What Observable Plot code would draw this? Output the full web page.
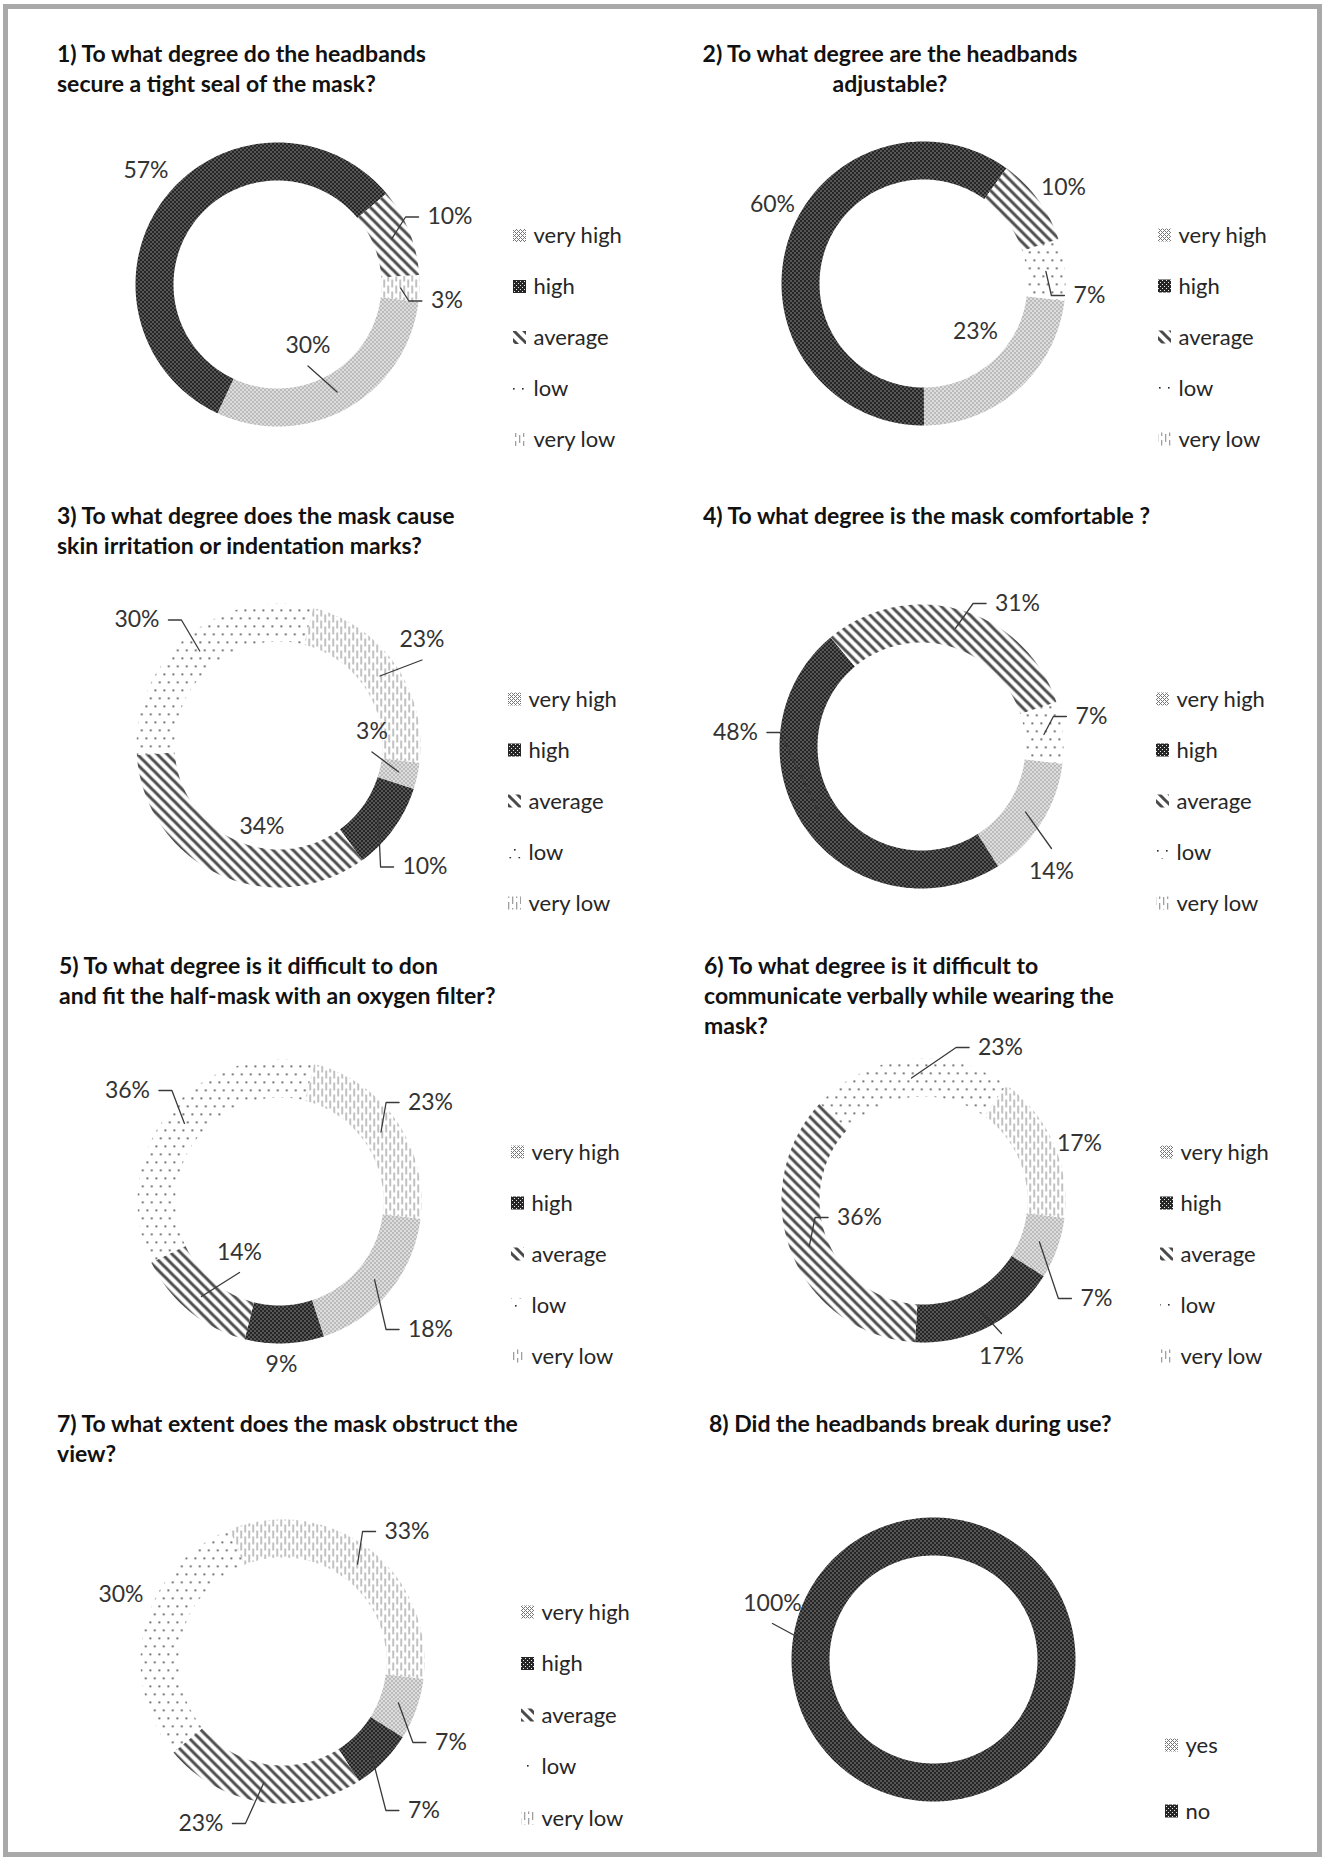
<!DOCTYPE html>
<html><head><meta charset="utf-8">
<script src="https://cdn.jsdelivr.net/npm/d3@7"></script>
<script src="https://cdn.jsdelivr.net/npm/@observablehq/plot@0.6"></script>
<style>
html,body{margin:0;padding:0;background:#fff;}
body{width:1325px;height:1861px;position:relative;overflow:hidden;font-family:Lato,"Open Sans",sans-serif;}
#frame{position:absolute;left:3px;top:4px;width:1309px;height:1843px;border:5px solid #a9a9a9;}
.title{position:absolute;font-weight:700;font-size:23px;line-height:30px;color:#111;white-space:nowrap;}
.panel{position:absolute;width:640px;height:380px;}
.panel svg{overflow:visible;max-width:none !important;}
</style></head><body>
<svg width="0" height="0" style="position:absolute;left:0;top:0">
<defs>
  <pattern id="p-vh" width="4" height="4" patternUnits="userSpaceOnUse">
    <rect width="4" height="4" fill="#fff"/>
    <rect x="0" y="0" width="1" height="1" fill="#767676"/>
    <rect x="1" y="1" width="1" height="1" fill="#767676"/>
    <rect x="2" y="2" width="1" height="1" fill="#767676"/>
    <rect x="3" y="3" width="1" height="1" fill="#767676"/>
    <rect x="1" y="3" width="1" height="1" fill="#767676"/>
    <rect x="3" y="1" width="1" height="1" fill="#767676"/>
  </pattern>
  <pattern id="p-h" width="4" height="4" patternUnits="userSpaceOnUse">
    <rect width="4" height="4" fill="#262626"/>
    <rect x="0" y="0" width="1" height="1" fill="#e6e6e6"/>
    <rect x="2" y="2" width="1" height="1" fill="#e6e6e6"/>
  </pattern>
  <pattern id="p-avg" width="10" height="10" patternUnits="userSpaceOnUse">
    <rect width="10" height="10" fill="#fff"/>
    <path d="M-5,-5 L15,15 M-5,5 L5,15 M5,-5 L15,5" stroke="#4a4a4a" stroke-width="3"/>
  </pattern>
  <pattern id="p-low" width="9" height="16" patternUnits="userSpaceOnUse">
    <rect width="9" height="16" fill="#fff"/>
    <rect x="1" y="1" width="1.6" height="1.6" fill="#2a2a2a"/>
    <rect x="5.5" y="9" width="1.6" height="1.6" fill="#2a2a2a"/>
  </pattern>
  <pattern id="p-vl" width="8" height="12" patternUnits="userSpaceOnUse">
    <rect width="8" height="12" fill="#fff"/>
    <rect x="1" y="0" width="1.3" height="8" fill="#a0a0a0"/>
    <rect x="5" y="6" width="1.3" height="6" fill="#a0a0a0"/>
    <rect x="5" y="0" width="1.3" height="2" fill="#a0a0a0"/>
  </pattern>
</defs>
</svg>
<div id="frame"></div>
<div id="root"></div>
<script>
// ---------- data ----------
const LEVELS = ["very high", "high", "average", "low", "very low"];
const YES_NO = ["yes", "no"];
const q1Values = [30, 57, 10, 0, 3];
const q2Values = [23, 60, 10, 7, 0];
const q3Values = [3, 10, 34, 30, 23];
const q4Values = [14, 48, 31, 7, 0];
const q5Values = [18, 9, 14, 36, 23];
const q6Values = [7, 17, 36, 23, 17];
const q7Values = [7, 7, 23, 30, 33];
const q8Values = [0, 100];
const q1Title = ["1) To what degree do the headbands", "secure a tight seal of the mask?"];
const q2Title = ["2) To what degree are the headbands", "adjustable?"];
const q3Title = ["3) To what degree does the mask cause", "skin irritation or indentation marks?"];
const q4Title = ["4) To what degree is the mask comfortable ?"];
const q5Title = ["5) To what degree is it difficult to don", "and fit the half-mask with an oxygen filter?"];
const q6Title = ["6) To what degree is it difficult to", "communicate verbally while wearing the", "mask?"];
const q7Title = ["7) To what extent does the mask obstruct the", "view?"];
const q8Title = ["8) Did the headbands break during use?"];

// ---------- styling / layout ----------
const LEVEL_FILLS = ["url(#p-vh)", "url(#p-h)", "url(#p-avg)", "url(#p-low)", "url(#p-vl)"];
const YES_NO_FILLS = ["url(#p-vh)", "url(#p-h)"];
const START = 97;            // angle of first slice (degrees, clockwise from 12 o'clock)
const R_OUT = 142, R_IN = 104, R_MID = 123;
const LABEL_SIZE = 23, LEGEND_SIZE = 22;
const GAP = 9, ELBOW = 13, VGAP_B = 20, VGAP_T = 23;
const W = 640, H = 380, OX = 215, OY = 185;

// label placement (offset from donut centre) and leader attachment side
const q1Labels = [[30.5, 61.5, "bottom"], [-131.5, -113.5, "none"], [172.5, -67.5, "left"], null, [169.5, 16.5, "left"]];
const q2Labels = [[52, 48, "none"], [-151, -79, "none"], [140, -96, "none"], [166, 12, "left"], null];
const q3Labels = [[93.5, -13.5, "bottom"], [146.5, 121.5, "left"], [-16.5, 81.5, "none"], [-141.5, -125.5, "right"], [143.5, -105.5, "bottom"]];
const q4Labels = [[130, 125, "top"], [-186, -14, "right"], [96, -143, "left"], [170, -30, "left"], null];
const q5Labels = [[151, 128, "left"], [2, 163, "none"], [-40, 51, "bottom"], [-152, -111, "right"], [151, -99, "left"]];
const q6Labels = [[173, 98, "left"], [78, 156, "top"], [-64, 17, "left"], [77, -153, "left"], [156, -57, "none"]];
const q7Labels = [[168.5, 81, "left"], [141.5, 149, "left"], [-81.5, 162, "right"], [-161.5, -67, "none"], [124.5, -130, "left"]];
const q8Labels = [null, [-161, -56, "bottom"]];

const panels = [
  {title: q1Title, align: "left", tx: 57, ty: 38, cats: LEVELS, fills: LEVEL_FILLS, values: q1Values, labels: q1Labels, cx: 276.5, cy: 283.5, lgDx: 236, lgDy: -48.5, lgStep: 51},
  {title: q2Title, align: "center", tx: 890, ty: 38, cats: LEVELS, fills: LEVEL_FILLS, values: q2Values, labels: q2Labels, cx: 923, cy: 283, lgDx: 235, lgDy: -48, lgStep: 51},
  {title: q3Title, align: "left", tx: 57, ty: 500, cats: LEVELS, fills: LEVEL_FILLS, values: q3Values, labels: q3Labels, cx: 277.5, cy: 744.5, lgDx: 230, lgDy: -46, lgStep: 51},
  {title: q4Title, align: "left", tx: 703, ty: 500, cats: LEVELS, fills: LEVEL_FILLS, values: q4Values, labels: q4Labels, cx: 921, cy: 746, lgDx: 235, lgDy: -47, lgStep: 51},
  {title: q5Title, align: "left", tx: 59, ty: 950, cats: LEVELS, fills: LEVEL_FILLS, values: q5Values, labels: q5Labels, cx: 279, cy: 1201, lgDx: 232, lgDy: -49, lgStep: 51},
  {title: q6Title, align: "left", tx: 704, ty: 950, cats: LEVELS, fills: LEVEL_FILLS, values: q6Values, labels: q6Labels, cx: 923, cy: 1200, lgDx: 237, lgDy: -48, lgStep: 51},
  {title: q7Title, align: "left", tx: 57, ty: 1408, cats: LEVELS, fills: LEVEL_FILLS, values: q7Values, labels: q7Labels, cx: 281.5, cy: 1661, lgDx: 239, lgDy: -49, lgStep: 51.5},
  {title: q8Title, align: "left", tx: 709, ty: 1408, cats: YES_NO, fills: YES_NO_FILLS, values: q8Values, labels: q8Labels, cx: 933, cy: 1659, lgDx: 232, lgDy: 86, lgStep: 66}
];

const rad = d => d * Math.PI / 180;

function ringPoints(s) {
  if (s.value <= 0) return [];
  const n = Math.max(2, Math.ceil(s.a1 - s.a0));
  const pts = [];
  for (let k = 0; k <= n; k++) {
    const t = rad(s.a0 + (s.a1 - s.a0) * k / n);
    pts.push({cat: s.cat, x: R_OUT * Math.sin(t), y: -R_OUT * Math.cos(t)});
  }
  for (let k = n; k >= 0; k--) {
    const t = rad(s.a0 + (s.a1 - s.a0) * k / n);
    pts.push({cat: s.cat, x: R_IN * Math.sin(t), y: -R_IN * Math.cos(t)});
  }
  return pts;
}

const root = document.getElementById("root");

panels.forEach((p, pi) => {
  // title
  const t = document.createElement("div");
  t.className = "title";
  t.innerHTML = p.title.join("<br>");
  if (p.align === "center") {
    t.style.left = (p.tx - 300) + "px"; t.style.width = "600px"; t.style.textAlign = "center";
  } else {
    t.style.left = p.tx + "px";
  }
  t.style.top = p.ty + "px";
  root.appendChild(t);

  // slices
  const total = d3.sum(p.values);
  let a = START;
  const sl = p.values.map((v, i) => {
    const span = v / total * 360;
    const s = {cat: p.cats[i], value: v, a0: a, a1: a + span, mid: a + span / 2};
    a += span;
    return s;
  });
  const ring = sl.flatMap(ringPoints);

  const labels = [], leaders = [];
  sl.forEach((s, i) => {
    const lp = p.labels[i];
    if (!lp || s.value <= 0) return;
    const [lx, ly, attach] = lp;
    const text = s.value + "%";
    labels.push({x: lx, y: ly, text});
    if (attach === "none") return;
    const hw = LABEL_SIZE * (0.55 * (text.length - 1) + 0.85) / 2;
    const sx = R_MID * Math.sin(rad(s.mid)), sy = -R_MID * Math.cos(rad(s.mid));
    let pts;
    if (attach === "left") { const ex = lx - hw - GAP; pts = [[sx, sy], [ex - ELBOW, ly], [ex, ly]]; }
    else if (attach === "right") { const ex = lx + hw + GAP; pts = [[sx, sy], [ex + ELBOW, ly], [ex, ly]]; }
    else if (attach === "bottom") pts = [[sx, sy], [lx, ly + VGAP_B]];
    else pts = [[sx, sy], [lx, ly - VGAP_T]];
    pts.forEach(([x, y]) => leaders.push({id: i, x, y}));
  });

  const legend = p.cats.map((c, k) => ({cat: c, y: p.lgDy + k * p.lgStep}));

  const chart = Plot.plot({
    width: W, height: H, margin: 0,
    x: {domain: [-OX, W - OX], range: [0, W], axis: null},
    y: {domain: [-OY, H - OY], range: [0, H], axis: null},
    color: {type: "ordinal", domain: p.cats, range: p.fills},
    style: {fontFamily: "Lato, 'Open Sans', sans-serif", background: "transparent", overflow: "visible", maxWidth: "none"},
    marks: [
      Plot.line(ring, {x: "x", y: "y", z: "cat", fill: "cat", stroke: "none", curve: "linear-closed"}),
      Plot.line(leaders, {x: "x", y: "y", z: "id", stroke: "#3a3a3a", strokeWidth: 1.3}),
      Plot.text(labels, {x: "x", y: "y", text: "text", fontSize: LABEL_SIZE, fill: "#333"}),
      Plot.rect(legend, {x1: () => p.lgDx, x2: () => p.lgDx + 13, y1: d => d.y - 6.5, y2: d => d.y + 6.5, fill: "cat"}),
      Plot.text(legend, {x: () => p.lgDx + 20, y: "y", text: "cat", textAnchor: "start", fontSize: LEGEND_SIZE, fill: "#262626"})
    ]
  });
  chart.style.maxWidth = "none";
  chart.style.width = W + "px";
  chart.style.height = H + "px";
  const wrap = document.createElement("div");
  wrap.className = "panel";
  wrap.style.left = Math.round(p.cx - OX) + "px";
  wrap.style.top = Math.round(p.cy - OY) + "px";
  wrap.appendChild(chart);
  root.appendChild(wrap);
});
</script>
</body></html>
